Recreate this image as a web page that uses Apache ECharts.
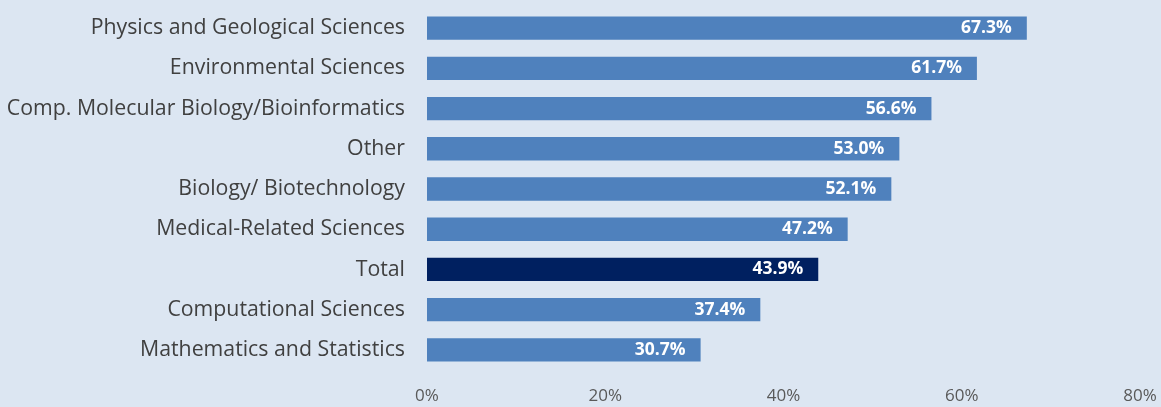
<!DOCTYPE html>
<html>
<head>
<meta charset="utf-8">
<script src="https://cdn.jsdelivr.net/npm/echarts@6/dist/echarts.min.js"></script>
<style>
  html, body { margin: 0; padding: 0; background: #dce6f2; }
  #chart { width: 1161px; height: 407px; }
</style>
</head>
<body>
<div id="chart"></div>
<script>
// categories top to bottom
const categories = [
  'Physics and Geological Sciences',
  'Environmental Sciences',
  'Comp. Molecular Biology/Bioinformatics',
  'Other',
  'Biology/ Biotechnology',
  'Medical-Related Sciences',
  'Total',
  'Computational Sciences',
  'Mathematics and Statistics'
];
const values = [67.3, 61.7, 56.6, 53.0, 52.1, 47.2, 43.9, 37.4, 30.7];
const highlight = 'Total';

const chart = echarts.init(document.getElementById('chart'));

// y category axis draws bottom-up, so reverse
const cats = categories.slice().reverse();
const vals = values.slice().reverse();

chart.setOption({
  backgroundColor: '#dce6f2',
  animation: false,
  grid: { left: 427, right: 21, top: 8, bottom: 37 },
  xAxis: {
    type: 'value',
    min: 0,
    max: 80,
    interval: 20,
    axisLine: { show: false },
    axisTick: { show: false },
    splitLine: { show: false },
    axisLabel: {
      formatter: '{value}%',
      color: '#595959',
      fontFamily: 'Open Sans',
      fontSize: 17,
      margin: 18
    }
  },
  yAxis: {
    type: 'category',
    data: cats,
    axisLine: { show: false },
    axisTick: { show: false },
    axisLabel: {
      color: '#404040',
      fontFamily: 'Open Sans',
      fontSize: 21.3,
      margin: 22
    }
  },
  series: [{
    type: 'bar',
    barWidth: '58%',
    data: vals.map((v, i) => ({
      value: v,
      itemStyle: { color: cats[i] === highlight ? '#002060' : '#4f81bd' }
    })),
    label: {
      show: true,
      position: 'insideRight',
      distance: 15,
      color: '#ffffff',
      fontWeight: 'bold',
      fontFamily: 'Open Sans',
      fontSize: 17.5,
      formatter: p => p.value.toFixed(1) + '%'
    }
  }]
});
</script>
</body>
</html>
